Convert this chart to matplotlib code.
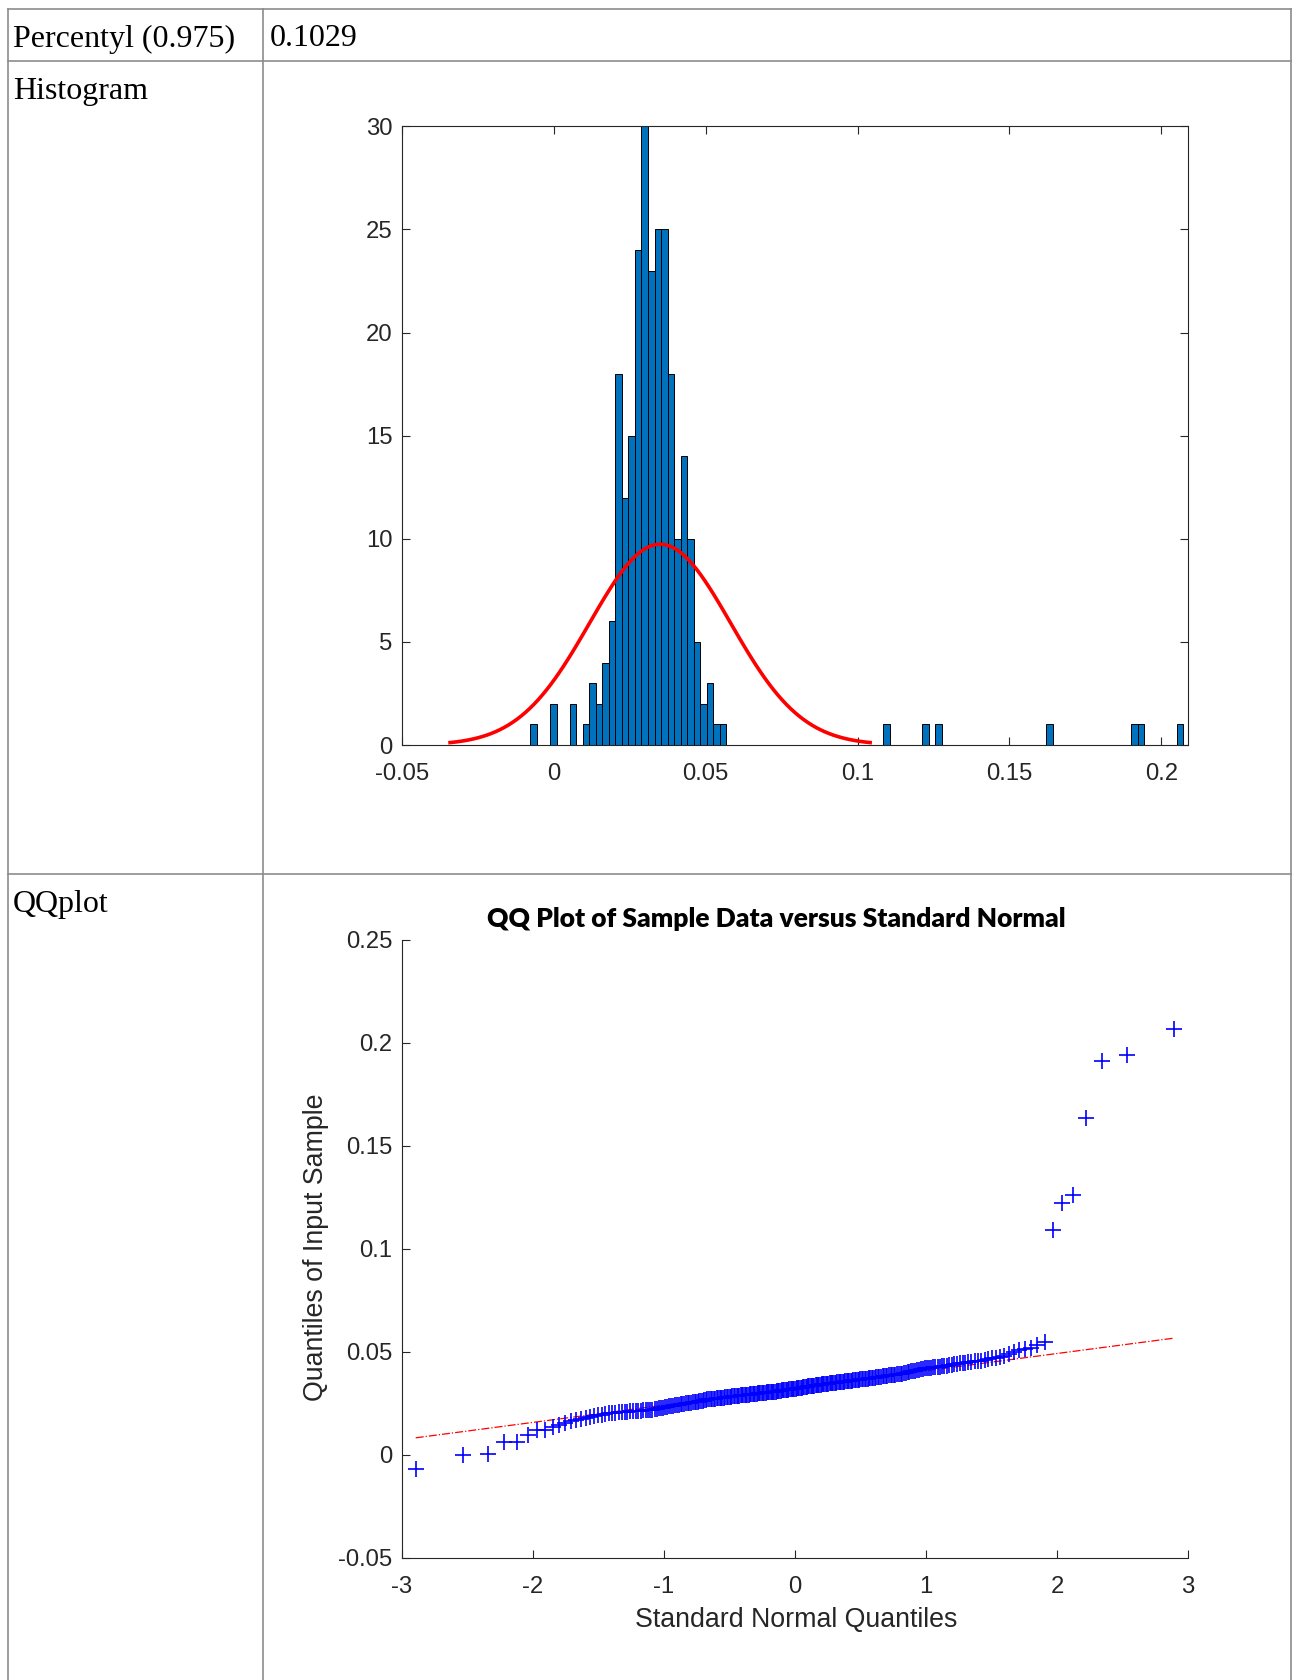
import numpy as np
import matplotlib
matplotlib.use("Agg")
import matplotlib.pyplot as plt
from matplotlib.lines import Line2D
from statistics import NormalDist

W, H = 1292, 1680

# ---------------- data ----------------
row_labels = ["Percentyl (0.975)", "Histogram", "QQplot"]
percentile_text = "0.1029"

hist_bin_start = -0.0077
hist_bin_width = 0.00215
hist_counts = [
    1, 0, 0, 2, 0, 0, 2, 0, 1, 3,
    2, 4, 6, 18, 12, 15, 24, 30, 23, 25,
    25, 18, 10, 14, 10, 5, 2, 3, 1, 1,
    0, 0, 0, 0, 0, 0, 0, 0, 0, 0,
    0, 0, 0, 0, 0, 0, 0, 0, 0, 0,
    0, 0, 0, 0, 1, 0, 0, 0, 0, 0,
    1, 0, 1, 0, 0, 0, 0, 0, 0, 0,
    0, 0, 0, 0, 0, 0, 0, 0, 0, 1,
    0, 0, 0, 0, 0, 0, 0, 0, 0, 0,
    0, 0, 1, 1, 0, 0, 0, 0, 0, 1,
]
hist_xticks = [-0.05, 0, 0.05, 0.1, 0.15, 0.2]
hist_xticklabels = ["-0.05", "0", "0.05", "0.1", "0.15", "0.2"]
hist_yticks = [0, 5, 10, 15, 20, 25, 30]

# sorted sample values
sample = [
    -0.0068, -0.0003, 0.0005, 0.0061, 0.0061, 0.0097, 0.0121, 0.0121, 0.0133,
    0.0145, 0.0155,
    0.0163, 0.0168, 0.0173, 0.0178,
    0.0183, 0.0187, 0.0191, 0.0194, 0.0197, 0.0200,
    0.0203, 0.0204, 0.0205, 0.0207, 0.0208, 0.0209, 0.0210, 0.0211, 0.0212,
    0.0213, 0.0214, 0.0215, 0.0216, 0.0217, 0.0218, 0.0219, 0.0221, 0.0223,
    0.0225, 0.0227, 0.0229, 0.0230, 0.0232, 0.0234, 0.0235, 0.0237, 0.0239,
    0.0240, 0.0242, 0.0244,
    0.0246, 0.0248, 0.0249, 0.0250, 0.0252, 0.0253, 0.0254, 0.0256, 0.0257,
    0.0258, 0.0260, 0.0261, 0.0262, 0.0264, 0.0266,
    0.0268, 0.0269, 0.0270, 0.0271, 0.0271, 0.0272, 0.0273, 0.0274, 0.0275,
    0.0276, 0.0277, 0.0277, 0.0278, 0.0279, 0.0280, 0.0281, 0.0282, 0.0283,
    0.0283, 0.0284, 0.0285, 0.0286, 0.0287, 0.0288,
    0.0289, 0.0290, 0.0290, 0.0291, 0.0292, 0.0292, 0.0293, 0.0294, 0.0294,
    0.0295, 0.0296, 0.0296, 0.0297, 0.0298, 0.0298, 0.0299, 0.0300, 0.0300,
    0.0301, 0.0302, 0.0302, 0.0303, 0.0304, 0.0304, 0.0305, 0.0306, 0.0306,
    0.0307, 0.0308, 0.0309,
    0.0311, 0.0312, 0.0313, 0.0313, 0.0314, 0.0315, 0.0316, 0.0317, 0.0318,
    0.0319, 0.0320, 0.0321, 0.0321, 0.0322, 0.0323, 0.0324, 0.0325, 0.0326,
    0.0327, 0.0328, 0.0329, 0.0330, 0.0331,
    0.0332, 0.0333, 0.0334, 0.0335, 0.0335, 0.0336, 0.0337, 0.0338, 0.0339,
    0.0340, 0.0341, 0.0341, 0.0342, 0.0343, 0.0344, 0.0345, 0.0346, 0.0346,
    0.0347, 0.0348, 0.0349, 0.0350, 0.0351, 0.0351, 0.0352,
    0.0354, 0.0355, 0.0355, 0.0356, 0.0357, 0.0358, 0.0359, 0.0359, 0.0360,
    0.0361, 0.0362, 0.0363, 0.0364, 0.0364, 0.0365, 0.0366, 0.0367, 0.0368,
    0.0368, 0.0369, 0.0370, 0.0371, 0.0372, 0.0373, 0.0374,
    0.0375, 0.0376, 0.0377, 0.0379, 0.0380, 0.0381, 0.0382, 0.0384, 0.0385,
    0.0386, 0.0387, 0.0388, 0.0389, 0.0390, 0.0391, 0.0392, 0.0394, 0.0395,
    0.0398, 0.0400, 0.0402, 0.0404, 0.0406, 0.0408, 0.0410, 0.0412, 0.0414,
    0.0416,
    0.0419, 0.0420, 0.0421, 0.0422, 0.0424, 0.0425, 0.0426, 0.0427, 0.0429,
    0.0430, 0.0432, 0.0434, 0.0436, 0.0438,
    0.0441, 0.0443, 0.0445, 0.0447, 0.0449, 0.0451, 0.0453, 0.0455, 0.0457,
    0.0459,
    0.0463, 0.0467, 0.0471, 0.0475, 0.0479,
    0.0488, 0.0498,
    0.0507, 0.0513, 0.0519,
    0.0532, 0.0548,
    0.1090, 0.1220, 0.1262, 0.1633, 0.1910, 0.1939, 0.2064,
]
qq_title = "QQ Plot of Sample Data versus Standard Normal"
qq_xlabel = "Standard Normal Quantiles"
qq_ylabel = "Quantiles of Input Sample"
qq_xticks = [-3, -2, -1, 0, 1, 2, 3]
qq_yticks = [-0.05, 0, 0.05, 0.1, 0.15, 0.2, 0.25]
qq_yticklabels = ["-0.05", "0", "0.05", "0.1", "0.15", "0.2", "0.25"]

# ---------------- style ----------------
TICK_FONT = "Liberation Sans"
TICK_SIZE = 17.2
LABEL_SIZE = 19.3
AX_COLOR = "#262626"
GRID_GRAY = "#8c8c8c"


def fx(px):
    return px / W


def fy(py):
    return 1 - py / H


fig = plt.figure(figsize=(W / 100, H / 100), dpi=100)
fig.patch.set_facecolor("white")

# ---------------- table frame ----------------
x_left, x_mid, x_right = 8, 263, 1291
y_top, y_r1, y_r2, y_bot = 9, 61, 874, 1690
for (xa, ya, xb, yb) in [
    (x_left, y_top, x_right, y_top),
    (x_left, y_r1, x_right, y_r1),
    (x_left, y_r2, x_right, y_r2),
    (x_left, y_top, x_left, y_bot),
    (x_mid, y_top, x_mid, y_bot),
    (x_right, y_top, x_right, y_bot),
]:
    fig.add_artist(Line2D([fx(xa), fx(xb)], [fy(ya), fy(yb)],
                          color=GRID_GRAY, lw=1.2))

serif = dict(family="Liberation Serif", size=23, color="black", va="baseline")
fig.text(fx(13), fy(46.5), row_labels[0], **serif)
fig.text(fx(270), fy(46.5), percentile_text, **serif)
fig.text(fx(13), fy(99.5), row_labels[1], **serif)
fig.text(fx(13), fy(912.5), row_labels[2], **serif)


def style_axes(ax, box):
    for side in ["left", "bottom", "top", "right"]:
        ax.spines[side].set_color(AX_COLOR)
        ax.spines[side].set_linewidth(0.8)
    if not box:
        ax.spines["top"].set_visible(False)
        ax.spines["right"].set_visible(False)
    ax.tick_params(direction="in", length=5.5, width=0.8, colors=AX_COLOR,
                   top=box, right=box, labelsize=TICK_SIZE)
    for lab in ax.get_xticklabels() + ax.get_yticklabels():
        lab.set_fontfamily(TICK_FONT)


# ---------------- histogram ----------------
ax1 = fig.add_axes([fx(402), fy(745), fx(1188) - fx(402), fy(126.4) - fy(745)])
counts = np.array(hist_counts)
lefts = hist_bin_start + hist_bin_width * np.arange(len(counts))
nz = counts > 0
ax1.bar(lefts[nz], counts[nz], width=hist_bin_width, align="edge",
        color="#0072BD", edgecolor="black", linewidth=0.7, zorder=2)

data = np.array(sample)
n = len(data)
mu = data.mean()
sd = data.std(ddof=1)
nd = NormalDist(mu, sd)
xs = np.linspace(nd.inv_cdf(0.0013499), nd.inv_cdf(0.9986501), 100)
ys = np.array([nd.pdf(v) for v in xs]) * n * hist_bin_width
ax1.plot(xs, ys, color="#FF0000", lw=2.6, zorder=3, solid_capstyle="butt")

ax1.set_xlim(-0.05, 0.2088)
ax1.set_ylim(0, 30)
ax1.set_xticks(hist_xticks)
ax1.set_xticklabels(hist_xticklabels)
ax1.set_yticks(hist_yticks)
ax1.set_yticklabels([str(v) for v in hist_yticks])
style_axes(ax1, box=True)
ax1.tick_params(axis="x", pad=13)
ax1.tick_params(axis="y", pad=7)

# ---------------- QQ plot ----------------
ax2 = fig.add_axes([fx(402), fy(1557.7), fx(1188) - fx(402), fy(939.6) - fy(1557.7)])
std_norm = NormalDist()
ys_sorted = np.sort(data)
xq = np.array([std_norm.inv_cdf((i - 0.5) / n) for i in range(1, n + 1)])
ax2.plot(xq, ys_sorted, linestyle="none", marker="+", markersize=11,
         markeredgewidth=1.2, color="#0000FF", zorder=3)

q1y, q3y = np.percentile(ys_sorted, [25, 75])
q1x, q3x = std_norm.inv_cdf(0.25), std_norm.inv_cdf(0.75)
slope = (q3y - q1y) / (q3x - q1x)
lx = np.array([xq.min(), xq.max()])
ly = q1y + slope * (lx - q1x)
ax2.plot(lx, ly, color="#FF0000", linestyle="-.", lw=0.9, zorder=2)

ax2.set_xlim(-3, 3)
ax2.set_ylim(-0.05, 0.25)
ax2.set_xticks(qq_xticks)
ax2.set_xticklabels([str(v) for v in qq_xticks])
ax2.set_yticks(qq_yticks)
ax2.set_yticklabels(qq_yticklabels)
style_axes(ax2, box=False)
ax2.tick_params(axis="x", pad=13)
ax2.tick_params(axis="y", pad=7)

fig.text(fx(776), fy(919), qq_title, family="Lato", weight="heavy", size=19,
         ha="center", va="center", color="black")
fig.text(fx(796), fy(1620), qq_xlabel, family=TICK_FONT, size=LABEL_SIZE,
         ha="center", va="center", color=AX_COLOR)
fig.text(fx(316), fy(1247), qq_ylabel, family=TICK_FONT, size=LABEL_SIZE,
         ha="center", va="center", rotation=90, color=AX_COLOR)

fig.savefig("out.png", dpi=100, facecolor="white")
